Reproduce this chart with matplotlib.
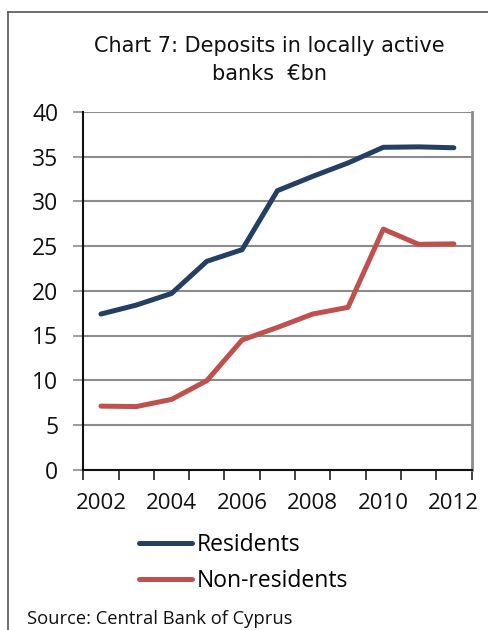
import matplotlib
matplotlib.use("Agg")
import matplotlib.pyplot as plt
from matplotlib.lines import Line2D
import numpy as np

years = [2002, 2003, 2004, 2005, 2006, 2007, 2008, 2009, 2010, 2011, 2012]
residents = [17.4, 18.4, 19.7, 23.3, 24.6, 31.2, 32.8, 34.3, 36.05, 36.1, 36.0]
non_residents = [7.1, 7.05, 7.85, 9.95, 14.5, 15.9, 17.4, 18.15, 26.9, 25.2, 25.25]
tick_labels = ["2002", "2004", "2006", "2008", "2010", "2012"]
title_line1 = "Chart 7: Deposits in locally active"
title_line2 = "banks  \u20acbn"
source = "Source: Central Bank of Cyprus"

W, H = 488, 630
fig = plt.figure(figsize=(W / 100, H / 100), dpi=100)

def fx(px):
    return px / W

def fy(py):
    return 1 - py / H

ax = fig.add_axes([fx(83.3), fy(469.6), fx(471.5) - fx(83.3), fy(112) - fy(469.6)])

x = np.arange(len(years))
blue = "#243F63"
red = "#C0504D"
l1, = ax.plot(x, residents, color=blue, lw=3.6, solid_capstyle="round", solid_joinstyle="round")
l2, = ax.plot(x, non_residents, color=red, lw=3.6, solid_capstyle="round", solid_joinstyle="round")

ax.set_xlim(-0.5, len(years) - 0.5)
ax.set_ylim(0, 40)
ax.set_yticks(np.arange(0, 41, 5))
ax.yaxis.grid(True, color="#8C8C8C", lw=1.5)
ax.set_axisbelow(True)

label_pos = [years.index(int(t)) for t in tick_labels]
ax.set_xticks(label_pos)
ax.set_xticklabels(tick_labels)
ax.set_xticks(np.arange(-0.5, len(years), 1.0), minor=True)
ax.tick_params(axis="x", which="major", length=0, pad=17)
ax.tick_params(axis="x", which="minor", length=7, width=1.2, color="#222222", direction="out")
ax.tick_params(axis="y", length=7, width=1.2, color="#8C8C8C", direction="out", pad=11)

fam = ["Open Sans", "DejaVu Sans"]
for lab in ax.get_xticklabels():
    lab.set_fontfamily(fam)
    lab.set_fontsize(16)
    lab.set_color("#111111")
for lab in ax.get_yticklabels():
    lab.set_fontfamily(fam)
    lab.set_fontsize(16.5)
    lab.set_color("#111111")

for s in ["left", "bottom"]:
    ax.spines[s].set_color("#111111")
    ax.spines[s].set_linewidth(1.5)
ax.spines["right"].set_color("#8C8C8C")
ax.spines["right"].set_linewidth(2)
ax.spines["top"].set_visible(False)

# Title
tfont = ["DejaVu Sans"]
fig.text(fx(269), fy(52), title_line1, ha="center", va="baseline", fontsize=15, family=tfont, color="#111111")
fig.text(fx(270), fy(80), title_line2, ha="center", va="baseline", fontsize=15, family=tfont, color="#111111")

# Legend
leg = fig.legend([l1, l2], ["Residents", "Non-residents"], loc="upper left",
                 bbox_to_anchor=(fx(130), fy(524)), frameon=False,
                 prop={"family": fam, "size": 16.5},
                 handlelength=2.3, handletextpad=0.2, labelspacing=0.5, borderaxespad=0)

fig.text(fx(27), fy(624), source, ha="left", va="baseline", fontsize=13.2,
         family=fam, color="#111111")

# Outer chart border (partially visible)
fig.add_artist(Line2D([fx(8.3), fx(8.3)], [0, fy(11.7)], color="#555555", lw=1.2, transform=fig.transFigure))
fig.add_artist(Line2D([fx(8.3), 1], [fy(11.7), fy(11.7)], color="#555555", lw=1.2, transform=fig.transFigure))

fig.savefig("out.png", dpi=100, facecolor="white")
